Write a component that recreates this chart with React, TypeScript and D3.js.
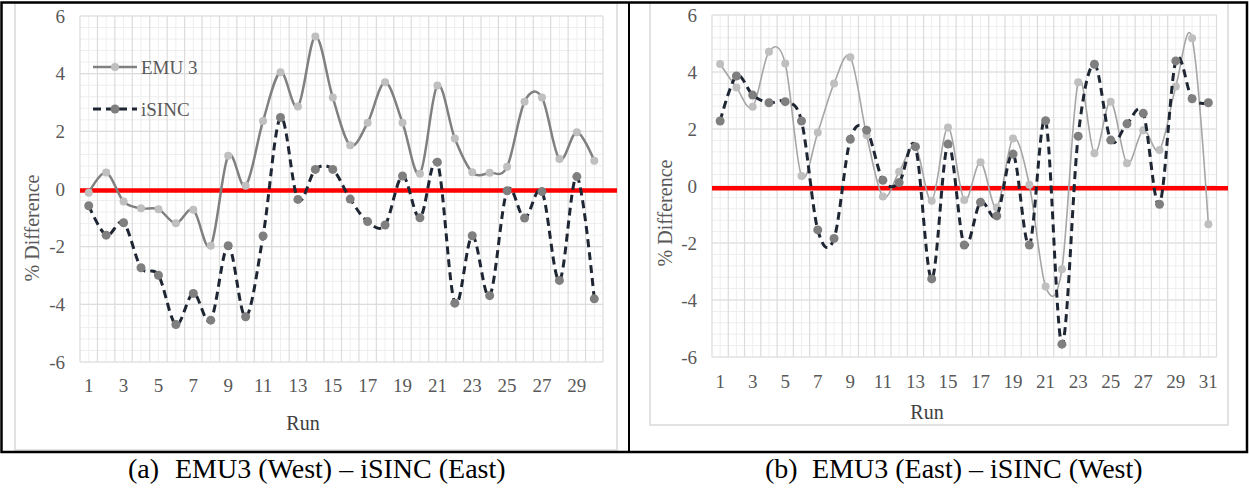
import React from "react";
import * as d3 from "d3";

// ---------- DATA ----------
const runsA = d3.range(1, 31);
const emu3A = [-0.13, 0.57, -0.43, -0.67, -0.7, -1.19, -0.72, -1.97, 1.15, 0.11, 2.36, 4.05, 2.86, 5.29, 3.17, 1.52, 2.3, 3.7, 2.3, 0.53, 3.59, 1.75, 0.58, 0.56, 0.77, 3.03, 3.17, 1.04, 1.97, 0.98];
const isincA = [-0.58, -1.6, -1.17, -2.73, -2.99, -4.7, -3.62, -4.55, -1.97, -4.43, -1.63, 2.48, -0.36, 0.68, 0.68, -0.35, -1.13, -1.25, 0.45, -1.0, 0.93, -3.96, -1.62, -3.7, -0.06, -1.01, -0.09, -3.17, 0.43, -3.81];

const runsB = d3.range(1, 32);
const emu3B = [4.28, 3.46, 2.78, 4.71, 4.3, 0.35, 1.88, 3.6, 4.52, 1.79, -0.37, 0.5, 1.38, -0.52, 2.05, -0.49, 0.83, -0.75, 1.67, 0.04, -3.53, -2.92, 3.64, 1.15, 2.96, 0.8, 1.96, 1.26, 3.49, 5.18, -1.34];
const isincB = [2.28, 3.86, 3.19, 2.92, 2.96, 2.28, -1.54, -1.84, 1.64, 1.96, 0.2, 0.12, 1.38, -3.26, 1.47, -2.07, -0.57, -1.05, 1.12, -2.07, 2.29, -5.55, 1.75, 4.27, 1.61, 2.18, 2.55, -0.64, 4.39, 3.06, 2.92];

const yTicks = [-6, -4, -2, 0, 2, 4, 6];
const seriesNames = ["EMU 3", "iSINC"];
const captions = ["(a)", "EMU3 (West) – iSINC (East)", "(b)", "EMU3 (East) – iSINC (West)"];
const axisTitles = ["% Difference", "Run"];

const FONT = "'Liberation Serif', 'Times New Roman', serif";

type ChartProps = {
  runs: number[];
  emu: number[];
  isinc: number[];
  frame: { x0: number; y0: number; x1: number; y1: number };
  plot: { x0: number; y0: number; x1: number; y1: number };
  xLabelY: number;
  yTitle: { x: number; y: number };
  runTitle: { x: number; y: number };
  emuWidth: number;
  emuColor: string;
  legend: boolean;
  redOffset: number;
};

function Chart(p: ChartProps) {
  const n = p.runs.length;
  const x = d3.scaleLinear().domain([0.5, n + 0.5]).range([p.plot.x0, p.plot.x1]);
  const y = d3.scaleLinear().domain([-6, 6]).range([p.plot.y1, p.plot.y0]);
  const curve = d3.curveCardinal.tension(0);
  const line = d3
    .line<number>()
    .x((_, i) => x(p.runs[i]))
    .y((v) => y(v))
    .curve(curve);

  const minorH = d3.range(-6, 6.001, 0.4).map((v) => Math.round(v * 10) / 10);
  const majorV = d3.range(0.5, n + 0.6, 1);
  const minorV = p.runs;
  const xLabels = p.runs.filter((r) => r % 2 === 1);

  return (
    <g>
      <rect
        x={p.frame.x0}
        y={p.frame.y0}
        width={p.frame.x1 - p.frame.x0}
        height={p.frame.y1 - p.frame.y0}
        fill="#ffffff"
        stroke="#d9d9d9"
        strokeWidth={1.5}
      />
      {minorH.map((v, i) => (
        <line key={"mh" + i} x1={p.plot.x0} x2={p.plot.x1} y1={y(v)} y2={y(v)} stroke="#eeeeee" strokeWidth={1} />
      ))}
      {minorV.map((v, i) => (
        <line key={"mv" + i} x1={x(v)} x2={x(v)} y1={p.plot.y0} y2={p.plot.y1} stroke="#eeeeee" strokeWidth={1} />
      ))}
      {yTicks.map((v) => (
        <line key={"h" + v} x1={p.plot.x0} x2={p.plot.x1} y1={y(v)} y2={y(v)} stroke="#dcdcdc" strokeWidth={1.2} />
      ))}
      {majorV.map((v, i) => (
        <line key={"v" + i} x1={x(v)} x2={x(v)} y1={p.plot.y0} y2={p.plot.y1} stroke="#dcdcdc" strokeWidth={1.2} />
      ))}
      {yTicks.map((v) => (
        <text key={"yl" + v} x={p.plot.x0 - 15} y={y(v)} dy="0.35em" textAnchor="end" fontFamily={FONT} fontSize={19} fill="#595959">
          {v}
        </text>
      ))}
      {xLabels.map((r) => (
        <text key={"xl" + r} x={x(r)} y={p.xLabelY} dy="0.35em" textAnchor="middle" fontFamily={FONT} fontSize={19} fill="#595959">
          {r}
        </text>
      ))}
      <text
        transform={`translate(${p.yTitle.x},${p.yTitle.y}) rotate(-90)`}
        textAnchor="middle"
        dy="0.35em"
        fontFamily={FONT}
        fontSize={20}
        fill="#595959"
      >
        {axisTitles[0]}
      </text>
      <text x={p.runTitle.x} y={p.runTitle.y} dy="0.35em" textAnchor="middle" fontFamily={FONT} fontSize={20} fill="#404040">
        {axisTitles[1]}
      </text>
      <line
        x1={p.plot.x0}
        x2={p.frame.x1}
        y1={y(p.redOffset)}
        y2={y(p.redOffset)}
        stroke="#ff0000"
        strokeWidth={4.5}
      />
      <path d={line(p.emu) || ""} fill="none" stroke={p.emuColor} strokeWidth={p.emuWidth} />
      {p.emu.map((v, i) => (
        <circle key={"e" + i} cx={x(p.runs[i])} cy={y(v)} r={4} fill="#bfbfbf" />
      ))}
      <path d={line(p.isinc) || ""} fill="none" stroke="#1f2633" strokeWidth={3} strokeDasharray="8,5" />
      {p.isinc.map((v, i) => (
        <circle key={"s" + i} cx={x(p.runs[i])} cy={y(v)} r={4.5} fill="#7f7f7f" />
      ))}
      {p.legend && (
        <g>
          <line x1={93} x2={137} y1={67} y2={67} stroke="#808080" strokeWidth={2.5} />
          <circle cx={115} cy={67} r={4} fill="#bfbfbf" />
          <text x={141} y={67} dy="0.35em" fontFamily={FONT} fontSize={19} fill="#595959">
            {seriesNames[0]}
          </text>
          <line x1={93} x2={137} y1={109} y2={109} stroke="#1f2633" strokeWidth={3} strokeDasharray="8,5" />
          <circle cx={115} cy={109} r={4.5} fill="#7f7f7f" />
          <text x={141} y={109} dy="0.35em" fontFamily={FONT} fontSize={19} fill="#595959">
            {seriesNames[1]}
          </text>
        </g>
      )}
    </g>
  );
}

export default function App() {
  return (
    <svg
      width={1249}
      height={491}
      style={{ position: "absolute", left: 0, top: 0, background: "#ffffff" }}
    >
      <rect x={0} y={0} width={1249} height={491} fill="#ffffff" />
      <Chart
        runs={runsA}
        emu={emu3A}
        isinc={isincA}
        frame={{ x0: 15, y0: 3, x1: 617, y1: 450 }}
        plot={{ x0: 80, y0: 16, x1: 603, y1: 362 }}
        xLabelY={385}
        yTitle={{ x: 32, y: 228 }}
        runTitle={{ x: 303, y: 423 }}
        emuWidth={2.5}
        emuColor="#808080"
        legend={true}
        redOffset={-0.05}
      />
      <Chart
        runs={runsB}
        emu={emu3B}
        isinc={isincB}
        frame={{ x0: 650, y0: 3, x1: 1228, y1: 425 }}
        plot={{ x0: 712, y0: 15, x1: 1216.5, y1: 357 }}
        xLabelY={381}
        yTitle={{ x: 665, y: 213 }}
        runTitle={{ x: 927, y: 412 }}
        emuWidth={1.6}
        emuColor="#a6a6a6"
        legend={false}
        redOffset={-0.08}
      />
      <rect x={1.5} y={2.5} width={1245.5} height={449.5} fill="none" stroke="#000000" strokeWidth={2.5} />
      <line x1={629} x2={629} y1={2} y2={452} stroke="#000000" strokeWidth={2} />
      <text x={128} y={478} fontFamily={FONT} fontSize={28} fill="#000000">
        {captions[0]}
      </text>
      <text x={175} y={478} fontFamily={FONT} fontSize={28} fill="#000000">
        {captions[1]}
      </text>
      <text x={765} y={478} fontFamily={FONT} fontSize={28} fill="#000000">
        {captions[2]}
      </text>
      <text x={812} y={478} fontFamily={FONT} fontSize={28} fill="#000000">
        {captions[3]}
      </text>
    </svg>
  );
}
